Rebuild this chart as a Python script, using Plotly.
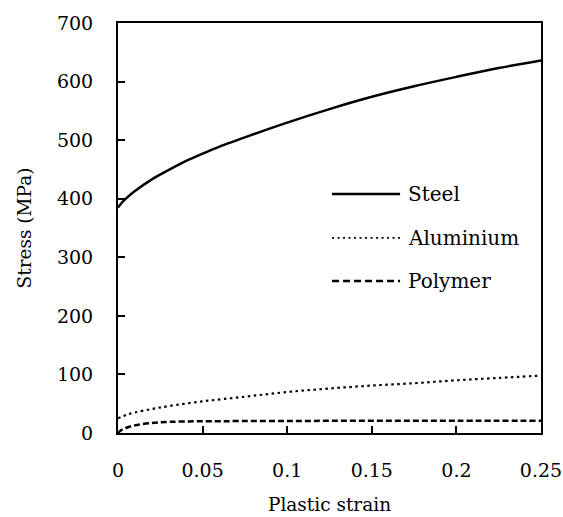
import plotly.graph_objects as go

# Flow curves: true stress vs plastic strain for three materials
strain_steel = [0, 0.0025, 0.005, 0.01, 0.02, 0.03, 0.04, 0.05, 0.06, 0.08,
                0.10, 0.125, 0.15, 0.175, 0.20, 0.225, 0.25]
stress_steel = [385, 394, 401, 413, 433, 449, 464, 477, 489, 510,
                530, 553, 574, 592, 608, 623, 636]

strain_al = [0, 0.005, 0.01, 0.02, 0.03, 0.05, 0.075, 0.10, 0.125, 0.15,
             0.175, 0.20, 0.225, 0.25]
stress_al = [25, 31, 35, 41, 46, 54, 62, 70, 76, 81, 85, 90, 94, 98]

strain_poly = [0, 0.002, 0.005, 0.01, 0.02, 0.03, 0.05, 0.10, 0.15, 0.20, 0.25]
stress_poly = [0, 5, 9, 13, 17, 19, 20, 20.5, 21, 21, 21]

x_ticks = [0, 0.05, 0.1, 0.15, 0.2, 0.25]
x_tick_text = ["0", "0.05", "0.1", "0.15", "0.2", "0.25"]
y_ticks = [0, 100, 200, 300, 400, 500, 600, 700]

legend_names = ["Steel", "Aluminium", "Polymer"]

FONT = "DejaVu Serif"
TICK_FS = 19
TITLE_FS = 18.5
LEGEND_FS = 20

fig = go.Figure()
fig.add_trace(go.Scatter(x=strain_steel, y=stress_steel, mode="lines",
                         line=dict(color="black", width=2.5, shape="spline", smoothing=1),
                         name=legend_names[0]))
fig.add_trace(go.Scatter(x=strain_al, y=stress_al, mode="lines",
                         line=dict(color="black", width=2.2, dash="2.5px,3.5px",
                                   shape="spline", smoothing=1),
                         name=legend_names[1]))
fig.add_trace(go.Scatter(x=strain_poly, y=stress_poly, mode="lines",
                         line=dict(color="black", width=2.5, dash="6px,3px",
                                   shape="spline", smoothing=1),
                         name=legend_names[2]))

axis_common = dict(showgrid=False, zeroline=False, showline=True, linecolor="black",
                   linewidth=2, mirror=True, ticks="inside", ticklen=7, tickwidth=2,
                   tickcolor="black", automargin=False,
                   tickfont=dict(family=FONT, size=TICK_FS, color="black"))

fig.update_xaxes(range=[0, 0.25], tickvals=x_ticks, ticktext=x_tick_text,
                 ticklabelstandoff=19,
                 title=dict(text="Plastic strain",
                            font=dict(family=FONT, size=TITLE_FS, color="black"),
                            standoff=18),
                 **axis_common)
fig.update_yaxes(range=[0, 700], tickvals=y_ticks, ticklabelstandoff=19,
                 title=dict(text="Stress (MPa)",
                            font=dict(family=FONT, size=TITLE_FS, color="black"),
                            standoff=20),
                 **axis_common)

# Hand-placed legend: line samples plus labels inside the plot area
legend_rows = [
    (0.583, dict(color="black", width=2.5)),
    (0.476, dict(color="black", width=1.8, dash="2px,3.5px")),
    (0.371, dict(color="black", width=2.5, dash="7px,4px")),
]
sample_x0, sample_x1, label_x = 0.1265, 0.1667, 0.1705
for (yy, ln), name in zip(legend_rows, legend_names):
    fig.add_shape(type="line", xref="x", yref="paper",
                  x0=sample_x0, x1=sample_x1, y0=yy, y1=yy, line=ln)
    fig.add_annotation(x=label_x, y=yy, xref="x", yref="paper", text=name,
                       showarrow=False, xanchor="left", yanchor="middle",
                       font=dict(family=FONT, size=LEGEND_FS, color="black"))

fig.update_layout(width=563, height=517, showlegend=False,
                  margin=dict(l=118, r=22, t=23, b=84),
                  plot_bgcolor="white", paper_bgcolor="white")

fig.write_html("out.html")
